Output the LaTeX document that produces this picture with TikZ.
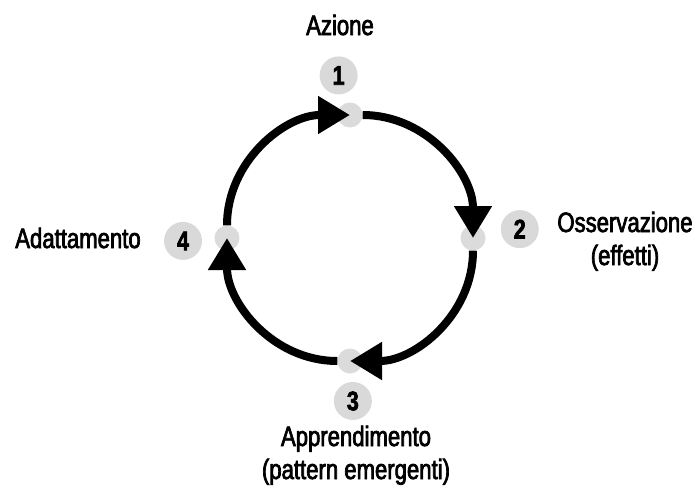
\documentclass[tikz,border=0pt]{standalone}
\usepackage{fontspec}
\setmainfont[FakeStretch=0.79,FakeBold=2.5]{Liberation Sans}
\usetikzlibrary{arrows.meta}
\tikzset{
  dot/.style={circle,fill=gray!28,minimum size=25pt,inner sep=0pt},
  num/.style={circle,fill=gray!30,minimum size=38pt,inner sep=0pt,font=\fontsize{27}{27}\selectfont\bfseries},
  lab/.style={align=center,anchor=base,font=\fontsize{28}{33}\selectfont},
  ring/.style={line width=8pt,-{Triangle[length=32pt,width=36pt]}}
}
\begin{document}
\begin{tikzpicture}[x=1pt,y=1pt]
  \useasboundingbox (-350,238) rectangle (345,-258);
  \draw
    (94:163) node[num] (n1){1}
    (3:170) node[num] (n2){2}
    (271:163) node[num] (n3){3}
    (181:167) node[num] (n4){4};
  \draw
    (90:123) node[dot] (d1){}
    (0:123) node[dot] (d2){}
    (270:123) node[dot] (d3){}
    (180:123) node[dot] (d4){};
  \node[lab] (azione) at (-10,203) {Azione};
  \node[lab] (osserv) at (275,-27) {Osservazione\\(effetti)};
  \node[lab] (appren) at (6,-241) {Apprendimento\\(pattern emergenti)};
  \node[lab] (adatta) at (-272,-10) {Adattamento};
  \begin{scope}[ring]
    \draw (d4) to[out=90,in=180] (d1.center);
    \draw (d1) to[out=0,in=90] (d2.center);
    \draw (d2) to[out=-90,in=0] (d3.center);
    \draw (d3) to[out=180,in=-90] (d4.center);
  \end{scope}
\end{tikzpicture}
\end{document}
